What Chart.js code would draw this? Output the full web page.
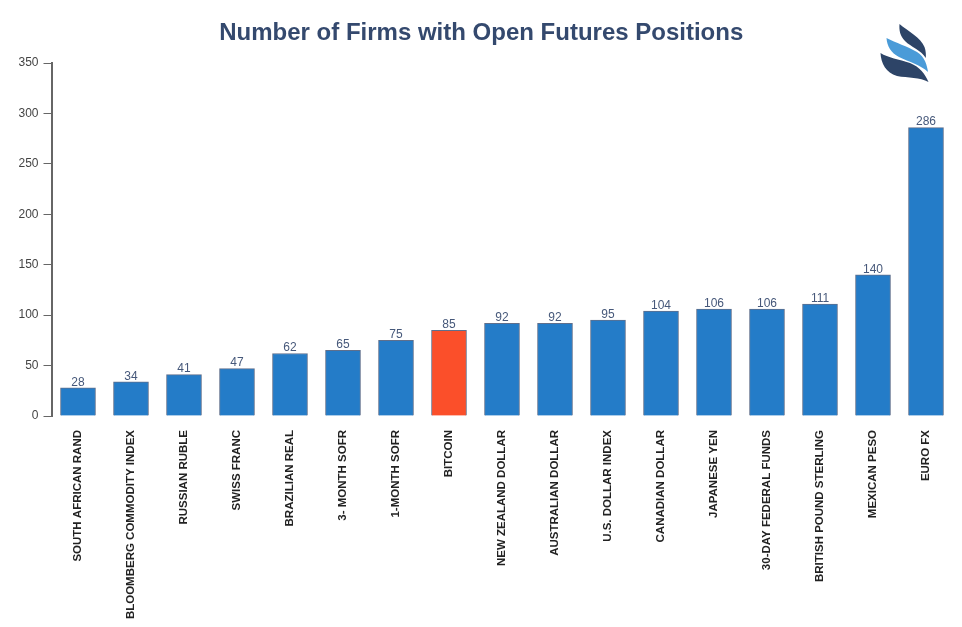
<!DOCTYPE html>
<html>
<head>
<meta charset="utf-8">
<title>Number of Firms with Open Futures Positions</title>
<script src="https://cdn.jsdelivr.net/npm/chart.js@4"></script>
<style>
    html, body { margin: 0; padding: 0; background: #fff; overflow: hidden; }
    #chart { position: absolute; left: 10px; top: 0; }
    #logo { position: absolute; left: 0; top: 0; }
</style>
</head>
<body>
<canvas id="chart" width="952" height="627"></canvas>
<svg id="logo" width="962" height="100" viewBox="0 0 962 100">
    <path fill="#2d4467" d="M899.5 24 C908 31 921 38 924.5 47 C926 51 926 55 925.8 58 C921 50 911 47 905 41 C900 36 899 30 899.5 24 Z"/>
    <path fill="#4a9bd8" d="M886.5 38 C896 43 907 46 917 52 C925 57 927 65 928 72 C921 65 909 62 899 57 C891 53 887 46 886.5 38 Z"/>
    <path fill="#2d4467" d="M880.5 53 C888 58 899 59 910 63 C920 67 925 74 928.5 82 C920 77 908 78 897 76 C886 73 881 63 880.5 53 Z"/>
</svg>
<script>
// 데이터
const categories = [
    'SOUTH AFRICAN RAND', 'BLOOMBERG COMMODITY INDEX', 'RUSSIAN RUBLE', 'SWISS FRANC',
    'BRAZILIAN REAL', '3- MONTH SOFR', '1-MONTH SOFR', 'BITCOIN', 'NEW ZEALAND DOLLAR',
    'AUSTRALIAN DOLLAR', 'U.S. DOLLAR INDEX', 'CANADIAN DOLLAR', 'JAPANESE YEN',
    '30-DAY FEDERAL FUNDS', 'BRITISH POUND STERLING', 'MEXICAN PESO', 'EURO FX'
];
const firmCounts = [28, 34, 41, 47, 62, 65, 75, 85, 92, 92, 95, 104, 106, 106, 111, 140, 286];
const highlighted = 'BITCOIN';

const fontFamily = '"Liberation Sans", Arial, sans-serif';

// 막대 위 값 표시
const valueLabels = {
    id: 'valueLabels',
    afterDatasetsDraw(chart) {
        const ctx = chart.ctx;
        ctx.save();
        ctx.font = '12px ' + fontFamily;
        ctx.fillStyle = '#46587a';
        ctx.textAlign = 'center';
        ctx.textBaseline = 'bottom';
        chart.getDatasetMeta(0).data.forEach((bar, i) => {
            ctx.fillText(firmCounts[i], bar.x, bar.y + 0.5);
        });
        ctx.restore();
    }
};

new Chart(document.getElementById('chart'), {
    type: 'bar',
    data: {
        labels: categories,
        datasets: [{
            data: firmCounts,
            backgroundColor: categories.map(c => c === highlighted ? '#fb4f2a' : '#247cc8'),
            borderColor: '#5f6f8c',
            borderWidth: 1,
            barThickness: 35
        }]
    },
    plugins: [valueLabels],
    options: {
        responsive: false,
        animation: false,
        layout: { padding: { left: 0, right: 9.5, top: 0, bottom: 0 } },
        plugins: {
            legend: { display: false },
            tooltip: { enabled: false },
            title: {
                display: true,
                text: 'Number of Firms with Open Futures Positions',
                color: '#34496e',
                font: { family: fontFamily, size: 24, weight: 'bold' },
                padding: { top: 18.6, bottom: 15.6 }
            }
        },
        scales: {
            x: {
                grid: { display: false },
                border: { display: false },
                ticks: {
                    autoSkip: false,
                    minRotation: 90,
                    maxRotation: 90,
                    padding: 6,
                    color: '#222222',
                    font: { family: fontFamily, size: 11.5, weight: 'bold' }
                },
                afterFit(scale) { scale.height = 211; }
            },
            y: {
                min: 0,
                max: 350,
                border: { display: true, color: '#666666', width: 2 },
                grid: { drawOnChartArea: false, color: '#666666', tickLength: 8, lineWidth: 1 },
                ticks: {
                    stepSize: 50,
                    padding: 5,
                    color: '#444444',
                    font: { family: fontFamily, size: 12 }
                },
                afterFit(scale) { scale.width = 41.5; }
            }
        }
    }
});
</script>
</body>
</html>
